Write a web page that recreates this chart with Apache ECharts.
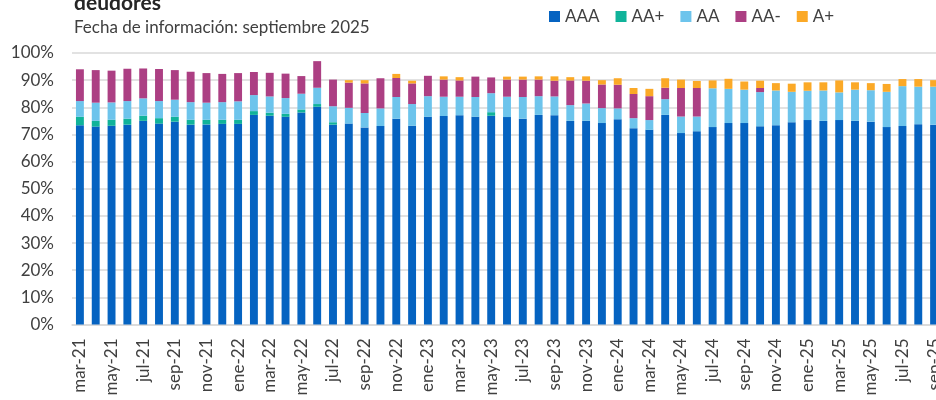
<!DOCTYPE html>
<html>
<head>
<meta charset="utf-8">
<script src="https://cdn.jsdelivr.net/npm/echarts@6/dist/echarts.min.js"></script>
<style>
  html, body { margin: 0; padding: 0; background: #fff; }
  #main { width: 936px; height: 400px; }
</style>
</head>
<body>
<div id="main"></div>
<script>
// meses (mar-21 a sep-25)
var meses = [
  'mar-21','abr-21','may-21','jun-21','jul-21','ago-21','sep-21','oct-21','nov-21','dic-21',
  'ene-22','feb-22','mar-22','abr-22','may-22','jun-22','jul-22','ago-22','sep-22','oct-22','nov-22','dic-22',
  'ene-23','feb-23','mar-23','abr-23','may-23','jun-23','jul-23','ago-23','sep-23','oct-23','nov-23','dic-23',
  'ene-24','feb-24','mar-24','abr-24','may-24','jun-24','jul-24','ago-24','sep-24','oct-24','nov-24','dic-24',
  'ene-25','feb-25','mar-25','abr-25','may-25','jun-25','jul-25','ago-25','sep-25'
];

// participación (%) por calificación
var aaa = [
  73.4, 72.9, 73.2, 73.6, 75.0, 74.0, 74.7, 73.6, 73.7, 73.9,
  73.9, 77.2, 76.9, 76.5, 78.1, 80.2, 73.6, 74.0, 72.6, 73.1, 75.8, 73.2,
  76.5, 76.8, 77.1, 76.5, 76.9, 76.4, 75.8, 77.2, 77.1, 75.0, 75.0, 74.2,
  75.6, 72.3, 71.7, 77.2, 70.5, 71.2, 72.7, 74.2, 74.2, 73.0, 73.4, 74.5,
  75.3, 75.0, 75.3, 75.0, 74.7, 72.7, 73.1, 73.8, 73.6
];
var aaPlus = [
  3.1, 2.1, 2.2, 2.2, 1.9, 2.0, 1.8, 1.8, 1.7, 1.5,
  1.5, 1.4, 1.1, 1.1, 1.1, 1.0, 0.9, 0, 0, 0, 0, 0,
  0, 0, 0, 0, 1.3, 0, 0, 0, 0, 0, 0, 0,
  0, 0, 0, 0, 0, 0, 0, 0, 0, 0, 0, 0,
  0, 0, 0, 0, 0, 0, 0, 0, 0
];
var aa = [
  5.8, 6.7, 6.4, 6.5, 6.4, 6.3, 6.3, 6.5, 6.3, 6.5,
  6.8, 5.9, 6.0, 5.8, 5.8, 6.0, 5.9, 5.8, 5.3, 6.5, 8.0, 8.0,
  7.6, 7.1, 6.8, 7.3, 7.0, 7.5, 8.0, 6.9, 6.9, 5.8, 6.4, 5.5,
  4.0, 3.7, 3.6, 5.8, 6.1, 5.4, 14.3, 12.6, 12.3, 12.6, 12.8, 11.2,
  10.8, 11.2, 10.2, 11.5, 11.6, 13.0, 14.7, 13.8, 14.0
];
var aaMinus = [
  11.7, 12.0, 11.7, 11.9, 11.0, 11.8, 10.9, 11.2, 10.9, 10.4,
  10.4, 8.5, 8.7, 9.0, 6.5, 9.8, 9.8, 9.3, 10.9, 11.1, 7.0, 7.6,
  7.5, 6.3, 6.0, 7.5, 5.8, 6.3, 6.4, 6.1, 5.8, 9.1, 8.4, 8.7,
  8.7, 8.9, 8.8, 4.2, 10.5, 10.5, 0, 0, 0, 1.5, 0, 0,
  0, 0, 0, 0, 0, 0, 0, 0, 0
];
var aPlus = [
  0, 0, 0, 0, 0, 0, 0, 0, 0, 0,
  0, 0, 0, 0, 0, 0, 0, 0.9, 1.2, 0, 1.5, 1.0,
  0, 1.2, 1.2, 0, 0, 1.1, 1.1, 1.2, 1.6, 1.2, 1.6, 1.6,
  2.4, 2.2, 2.7, 3.5, 3.1, 2.6, 2.9, 3.7, 3.0, 2.7, 2.7, 3.0,
  3.1, 3.0, 4.4, 2.7, 2.6, 2.9, 2.6, 2.8, 2.4
];

var colores = ['#0563C1', '#10B39A', '#6DC4EC', '#AC3F83', '#FBA927'];

var chart = echarts.init(document.getElementById('main'));

function serie(nombre, datos) {
  return {
    name: nombre,
    type: 'bar',
    stack: 'total',
    barCategoryGap: '50%',
    data: datos
  };
}

var option = {
  color: colores,
  textStyle: { fontFamily: 'Lato' },
  title: [
    {
      text: 'deudores',
      left: 74, top: -7, padding: 0,
      textStyle: { fontFamily: 'Lato', fontSize: 21, fontWeight: 'bold', color: '#262626' }
    },
    {
      text: 'Fecha de información: septiembre 2025',
      left: 74, top: 19, padding: 0,
      textStyle: { fontFamily: 'Lato', fontSize: 17, fontWeight: 'normal', color: '#404040' }
    }
  ],
  legend: {
    left: 549, top: 8, padding: 0,
    icon: 'rect',
    itemWidth: 11, itemHeight: 11, itemGap: 16,
    textStyle: { fontFamily: 'Lato', fontSize: 17, color: '#404040' },
    data: ['AAA', 'AA+', 'AA', 'AA-', 'A+']
  },
  grid: { left: 72, width: 870, top: 53, height: 271.5, outerBoundsMode: 'none' },
  xAxis: {
    type: 'category',
    data: meses,
    axisTick: { show: false },
    axisLine: { lineStyle: { color: '#d9d9d9', width: 1.5 } },
    axisLabel: {
      interval: 1, rotate: 90, margin: 14,
      fontFamily: 'Lato', fontSize: 17, color: '#404040'
    }
  },
  yAxis: {
    type: 'value',
    min: 0, max: 100, interval: 10,
    axisLine: { show: false },
    axisTick: { show: false },
    splitLine: { lineStyle: { color: '#d9d9d9', width: 1.5 } },
    axisLabel: {
      margin: 18, formatter: '{value}%',
      fontFamily: 'Lato', fontSize: 17, color: '#404040'
    }
  },
  series: [
    serie('AAA', aaa),
    serie('AA+', aaPlus),
    serie('AA', aa),
    serie('AA-', aaMinus),
    serie('A+', aPlus)
  ]
};

chart.setOption(option);
</script>
</body>
</html>
